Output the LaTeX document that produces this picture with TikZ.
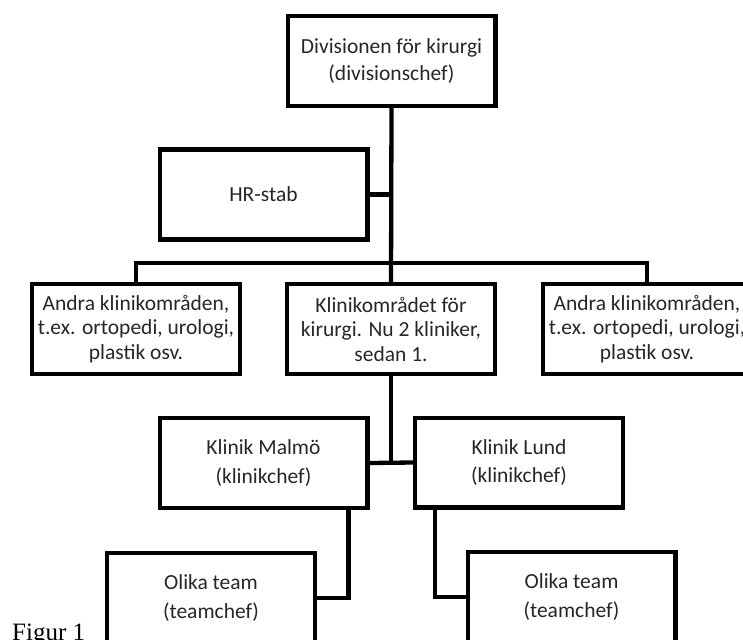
\documentclass[tikz,border=0pt]{standalone}
\usepackage{fontspec}
\setmainfont{Carlito}
\newfontfamily\figfont{Liberation Serif}
\usetikzlibrary{positioning}

\tikzset{
    orgbox/.style={draw, line width=4.3pt, minimum width=207.7pt, minimum height=89.7pt,
        inner sep=0pt, align=center, text=black!85, font=\fontsize{21.5}{24.5}\selectfont},
    link/.style={line width=4.3pt}
}

\begin{document}
\begin{tikzpicture}[x=1pt, y=-1pt]
    \useasboundingbox (0,0) rectangle (743,639);
    \clip (0,0) rectangle (743,639);

    % boxes
    \node [orgbox] (div) at (391.5, 61) {Divisionen för kirurgi\\[3pt](divisionschef)};
    \node [orgbox] (hr) at (263.5, 194.5) {HR-stab};
    \node [orgbox] (andraL) at (136, 329) {Andra klinikområden,\\t.ex. ortopedi, urologi,\\plastik osv.};
    \node [orgbox] (klin) at (391, 329) {Klinikområdet för\\kirurgi. Nu 2 kliniker,\\sedan 1.};
    \node [orgbox] (andraR) at (647, 329) {Andra klinikområden,\\t.ex. ortopedi, urologi,\\plastik osv.};
    \node [orgbox] (malmo) at (263.5, 463) {Klinik Malmö\\[4pt](klinikchef)};
    \node [orgbox] (lund) at (519, 462.5) {Klinik Lund\\[4pt](klinikchef)};
    \node [orgbox] (teamL) at (211, 598) {Olika team\\[5pt](teamchef)};
    \node [orgbox] (teamR) at (571.5, 597) {Olika team\\[5pt](teamchef)};

    \node [anchor=base west, inner sep=0pt, font=\figfont\fontsize{25}{25}\selectfont] (fig) at (12, 640) {Figur 1};

    % connectors
    \coordinate (bus) at (391.5, 263);
    \draw [link] (div.south) -- (klin.north);
    \draw [link] (hr.east) -- (hr.east -| div.south);
    \draw [link] (andraL.north) -- (andraL.north |- bus) -- (andraR.north |- bus) -- (andraR.north);
    \draw [link] (klin.south) -- (klin.south |- malmo.east);
    \draw [link] (malmo.east) -- (lund.west);
    \draw [link] ([xshift=-21pt]malmo.south east) |- (teamL.east);
    \draw [link] ([xshift=22pt]lund.south west) |- (teamR.west);
\end{tikzpicture}
\end{document}
